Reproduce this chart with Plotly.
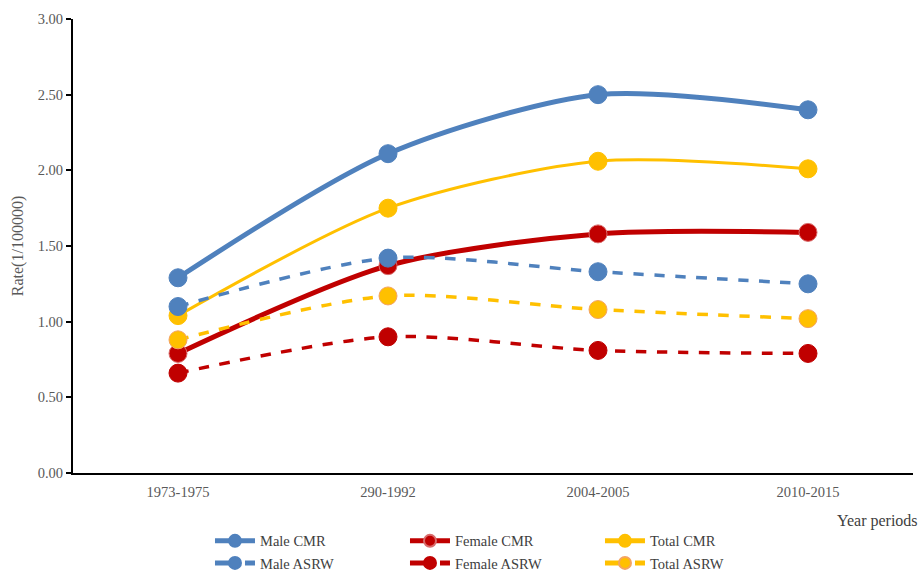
import plotly.graph_objects as go

categories = ["1973-1975", "290-1992", "2004-2005", "2010-2015"]
male_cmr = [1.29, 2.11, 2.50, 2.40]
female_cmr = [0.79, 1.37, 1.58, 1.59]
total_cmr = [1.04, 1.75, 2.06, 2.01]
male_asrw = [1.10, 1.42, 1.33, 1.25]
female_asrw = [0.66, 0.90, 0.81, 0.79]
total_asrw = [0.88, 1.17, 1.08, 1.02]

BLUE = "#4F81BD"
RED = "#C00000"
GOLD = "#FFC000"

FONT = "Liberation Serif"

fig = go.Figure()

def add(name, y, color, width, dash, edge, legend):
    fig.add_trace(go.Scatter(
        x=categories, y=y, name=name, mode="lines+markers",
        line=dict(color=color, width=width, dash=dash, shape="spline", smoothing=0.8),
        marker=dict(size=18, color=color, line=dict(color=edge, width=1)),
        legend=legend,
    ))

add("Male CMR", male_cmr, BLUE, 5, "solid", BLUE, "legend")
add("Female CMR", female_cmr, RED, 5, "solid", "#D96B6B", "legend")
add("Total CMR", total_cmr, GOLD, 3, "solid", GOLD, "legend")
add("Male ASRW", male_asrw, BLUE, 3.5, "dash", BLUE, "legend2")
add("Female ASRW", female_asrw, RED, 3.5, "dash", RED, "legend2")
add("Total ASRW", total_asrw, GOLD, 3.5, "dash", "#F4A460", "legend2")

legend_common = dict(
    orientation="h", xanchor="left", yanchor="middle", xref="container", yref="container",
    entrywidth=140, entrywidthmode="pixels", itemwidth=40, itemsizing="constant",
    font=dict(family=FONT, size=14.5, color="#404040"),
    bgcolor="rgba(0,0,0,0)", traceorder="normal",
)

fig.update_layout(
    width=921, height=573,
    margin=dict(l=73, r=8, t=19, b=100, autoexpand=False),
    paper_bgcolor="white", plot_bgcolor="white",
    font=dict(family=FONT, size=14.5, color="#595959"),
    legend=dict(x=0.228, y=0.056, **legend_common),
    legend2=dict(x=0.228, y=0.0175, **legend_common),
    xaxis=dict(
        type="category", range=[-0.5, 3.5],
        showline=True, linecolor="black", linewidth=2,
        ticks="", showgrid=False, zeroline=False, ticklabelstandoff=5,
        tickfont=dict(family=FONT, size=14.5, color="#595959"),
    ),
    yaxis=dict(
        range=[0, 3], dtick=0.5, tickformat=".2f",
        showline=True, linecolor="black", linewidth=2,
        ticks="outside", ticklen=5, tickcolor="black", tickwidth=2,
        showgrid=False, zeroline=False,
        tickfont=dict(family=FONT, size=14.5, color="#595959"),
        title=dict(text="Rate(1/100000)", font=dict(family=FONT, size=16, color="#595959"), standoff=10),
    ),
    annotations=[dict(
        text="Year periods", xref="paper", yref="paper", x=1.008, y=-0.105,
        xanchor="right", yanchor="middle", showarrow=False,
        font=dict(family=FONT, size=16, color="#404040"),
    )],
)

fig.write_html("out.html")
